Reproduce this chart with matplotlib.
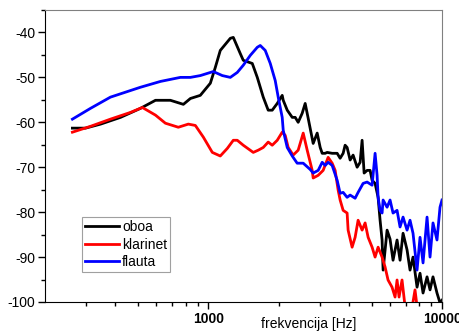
import matplotlib
matplotlib.use("Agg")
import matplotlib.pyplot as plt
from matplotlib.ticker import FixedLocator, NullFormatter

plt.rcParams["font.family"] = ["Liberation Sans", "DejaVu Sans"]

# frekvencija [Hz] / razina [dB], ocitano sa slike
oboa_f = [262, 298, 346, 421, 512, 594, 688, 782, 838, 924, 1020, 1071, 1125,
          1242, 1279, 1370, 1411, 1542, 1620, 1718, 1804, 1877, 1972, 2071, 2092,
          2176, 2286, 2354, 2424, 2521, 2597, 2675, 2810, 2923, 3011, 3071, 3162,
          3225, 3388, 3559, 3665, 3775, 3849, 3926, 4044, 4165, 4333, 4463, 4551,
          4642, 4780, 4924, 5022, 5172, 5328, 5433, 5541, 5597, 5821, 5994, 6173,
          6422, 6614, 6813, 7087, 7298, 7516, 7820, 8053, 8296, 8630, 8887, 9151,
          9519, 9806, 10000]
oboa_db = [-61.3, -61.3, -60.4, -58.9, -56.9, -55.1, -55.1, -56.0, -54.7, -54.0,
           -51.3, -47.8, -44.0, -41.3, -41.1, -44.7, -46.2, -46.9, -50.0, -54.4,
           -57.3, -57.3, -55.8, -54.0, -55.1, -57.3, -58.9, -58.9, -60.0, -58.0,
           -55.8, -59.1, -64.7, -62.4, -65.6, -66.9, -66.9, -66.7, -66.9, -66.9,
           -68.0, -66.9, -65.1, -65.6, -68.4, -67.3, -70.0, -68.9, -64.0, -71.3,
           -70.7, -70.7, -72.9, -73.6, -76.7, -81.8, -86.2, -92.9, -84.0, -86.0,
           -90.7, -86.2, -90.7, -84.7, -88.4, -92.9, -90.0, -96.7, -93.6, -98.0,
           -94.4, -97.3, -94.4, -98.0, -100.2, -99.6]

klarinet_f = [262, 313, 381, 464, 522, 594, 655, 744, 821, 880, 952, 1040, 1125,
              1206, 1279, 1330, 1411, 1557, 1636, 1718, 1804, 1877, 1972, 2071,
              2133, 2197, 2307, 2424, 2472, 2547, 2649, 2783, 2810, 2952, 3100,
              3257, 3388, 3489, 3594, 3665, 3775, 3926, 3965, 4124, 4248, 4375,
              4551, 4688, 4829, 5022, 5172, 5328, 5541, 5707, 5876, 6112, 6297,
              6422, 6550, 6745, 6948, 7298, 7665, 7820, 8500, 10000]
klarinet_db = [-62.2, -60.9, -59.3, -57.8, -56.7, -58.4, -60.2, -61.1, -60.4,
               -60.7, -63.3, -66.7, -67.5, -65.8, -64.0, -64.0, -65.1, -66.7,
               -66.2, -65.6, -64.4, -65.1, -64.0, -62.2, -62.9, -65.6, -67.3,
               -66.2, -64.7, -62.4, -66.2, -70.7, -72.4, -71.8, -70.7, -67.8,
               -69.1, -70.7, -75.1, -77.3, -79.6, -80.2, -84.0, -87.8, -85.6,
               -81.8, -84.0, -82.4, -85.6, -87.8, -90.0, -87.8, -90.0, -92.2,
               -95.1, -96.7, -98.9, -95.1, -98.9, -95.1, -101.0, -104.0, -97.3,
               -101.0, -106.0, -110.0]

flauta_f = [262, 313, 381, 512, 624, 759, 838, 924, 1050, 1148, 1242, 1330, 1411,
            1512, 1620, 1668, 1752, 1841, 1933, 1991, 2071, 2092, 2176, 2286,
            2400, 2547, 2729, 2810, 2952, 3071, 3162, 3257, 3388, 3559, 3665,
            3775, 3926, 4044, 4248, 4375, 4596, 4780, 5022, 5172, 5275, 5328,
            5433, 5541, 5597, 5821, 5994, 6173, 6422, 6614, 6813, 7087, 7298,
            7516, 7820, 8053, 8296, 8630, 8887, 9151, 9519, 9806, 10000]
flauta_db = [-59.3, -56.9, -54.4, -52.2, -50.9, -50.0, -50.0, -49.6, -48.7, -49.6,
             -50.0, -48.9, -47.3, -45.1, -43.3, -42.9, -44.0, -46.9, -50.7, -54.4,
             -58.9, -61.8, -65.6, -67.5, -69.1, -69.1, -70.5, -71.3, -70.7, -68.9,
             -69.6, -68.9, -69.6, -72.9, -75.8, -75.6, -76.7, -76.2, -76.9, -75.6,
             -73.6, -73.3, -74.0, -66.9, -71.8, -76.7, -79.6, -80.2, -77.3, -78.9,
             -77.3, -80.2, -79.6, -83.3, -81.1, -84.0, -81.8, -84.7, -92.9, -85.6,
             -91.3, -81.1, -90.0, -82.4, -86.2, -78.9, -77.3]

y_ticks = [-40, -50, -60, -70, -80, -90, -100]
x_ticks = [1000, 10000]

fig = plt.figure(figsize=(4.6, 3.34), dpi=100)
ax = fig.add_axes([45 / 460, 32 / 334, 397 / 460, 292 / 334])

ax.plot(oboa_f, oboa_db, color="black", lw=2.0, label="oboa")
ax.plot(klarinet_f, klarinet_db, color="red", lw=2.0, label="klarinet")
ax.plot(flauta_f, flauta_db, color="blue", lw=2.0, label="flauta")

ax.set_xscale("log")
ax.set_xlim(200, 10000)
ax.set_ylim(-100, -35)

ax.xaxis.set_major_locator(FixedLocator(x_ticks))
ax.xaxis.set_minor_locator(FixedLocator([300, 400, 500, 600, 700, 800, 900,
                                         2000, 3000, 4000, 5000, 6000, 7000,
                                         8000, 9000]))
ax.xaxis.set_minor_formatter(NullFormatter())
ax.set_xticklabels([str(t) for t in x_ticks], fontweight="bold", fontsize=10)

ax.set_yticks(y_ticks)
ax.set_yticks([-35, -45, -55, -65, -75, -85, -95], minor=True)
ax.set_yticklabels([str(t) for t in y_ticks], fontsize=10)

ax.tick_params(which="major", direction="out", length=5, width=1, pad=2)
ax.tick_params(which="minor", direction="out", length=3, width=1)
ax.tick_params(top=False, right=False, which="both")

for side in ["top", "right"]:
    ax.spines[side].set_color("#808080")
for side in ["left", "bottom"]:
    ax.spines[side].set_color("black")

ax.set_xlabel("frekvencija [Hz]", fontsize=10)
ax.xaxis.set_label_coords(0.665, -0.053)

leg = ax.legend(loc="lower left", bbox_to_anchor=(0.093, 0.103), borderaxespad=0,
                fontsize=10, fancybox=False, framealpha=1, edgecolor="#a0a0a0",
                handlelength=2.5, handletextpad=0.2, borderpad=0.2, labelspacing=0.25)
leg.get_frame().set_linewidth(0.8)

fig.savefig("out.png", dpi=100)
